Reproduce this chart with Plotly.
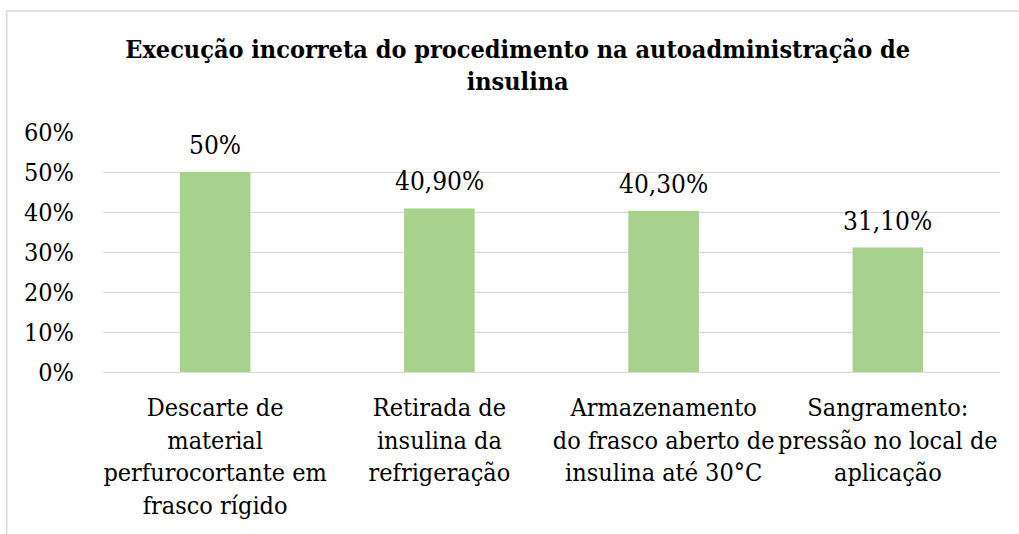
import plotly.graph_objects as go

categories = [
    "Descarte de<br>material<br>perfurocortante em<br>frasco rígido",
    "Retirada de<br>insulina da<br>refrigeração",
    "Armazenamento<br>do frasco aberto de<br>insulina até 30°C",
    "Sangramento:<br>pressão no local de<br>aplicação",
]
values = [0.50, 0.409, 0.403, 0.311]
value_labels = ["50%", "40,90%", "40,30%", "31,10%"]
title_text = "<b>Execução incorreta do procedimento na autoadministração de<br>insulina</b>"

FONT = "DejaVu Serif Condensed"

fig = go.Figure(
    go.Bar(
        x=categories,
        y=values,
        marker=dict(color="#A9D18E", line=dict(width=0)),
        cliponaxis=False,
    )
)

for cat, val, lab in zip(categories, values, value_labels):
    fig.add_annotation(
        x=cat, y=val, xref="x", yref="y",
        text=lab, showarrow=False,
        yanchor="bottom", yshift=10,
        font=dict(family=FONT, size=26, color="#000000"),
    )

fig.update_layout(
    width=1019,
    height=534,
    margin=dict(l=103, r=19, t=132, b=162, autoexpand=False),
    paper_bgcolor="white",
    plot_bgcolor="white",
    bargap=0.685,
    showlegend=False,
    font=dict(family=FONT, size=26, color="#000000"),
    title=dict(
        text=title_text,
        x=0.508,
        xanchor="center",
        y=0.892,
        yanchor="top",
        yref="container",
        font=dict(family=FONT, size=25, color="#000000"),
    ),
)

fig.update_yaxes(
    range=[0, 0.6],
    dtick=0.1,
    tickformat=".0%",
    showgrid=True,
    gridcolor="#D9D9D9",
    gridwidth=1,
    zeroline=False,
    showline=False,
    ticks="",
    automargin=False,
    ticklabelstandoff=28,
    tickfont=dict(family=FONT, size=25, color="#000000"),
)
fig.update_xaxes(
    showline=True,
    linecolor="#D9D9D9",
    linewidth=1,
    ticks="",
    automargin=False,
    ticklabelstandoff=13,
    tickfont=dict(family=FONT, size=25, color="#000000"),
)

# chart border (top and left edges visible in the reference)
fig.add_shape(type="line", xref="paper", yref="paper",
              x0=-0.1074, x1=1.1, y0=1.504, y1=1.504,
              line=dict(color="#D9D9D9", width=1.5))
fig.add_shape(type="line", xref="paper", yref="paper",
              x0=-0.1074, x1=-0.1074, y0=1.504, y1=-1.0,
              line=dict(color="#D9D9D9", width=1.5))

fig.write_html("out.html", config={"displayModeBar": False},
               post_script="document.body.style.margin='0';")
